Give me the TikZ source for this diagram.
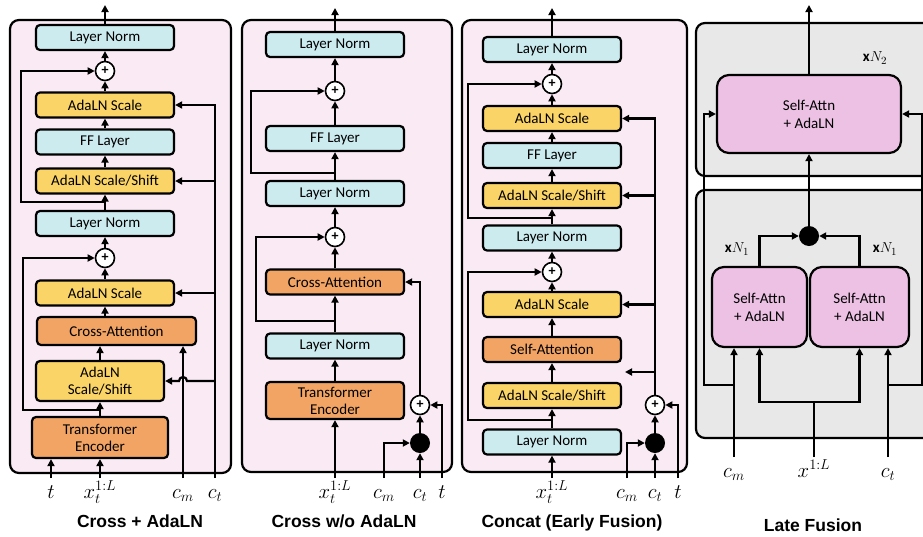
\documentclass[tikz,border=0pt]{standalone}
\usepackage{fontspec}
\setmainfont{Carlito}
\newfontfamily\titlefamily{Liberation Sans}
\usepackage{xcolor}
\usepackage{tikz}
\usetikzlibrary{arrows.meta,calc}

\definecolor{panelpink}{HTML}{F9EAF4}
\definecolor{lnblue}{HTML}{CCEBEF}
\definecolor{adagold}{HTML}{FBD467}
\definecolor{attorange}{HTML}{F2A465}
\definecolor{fusepink}{HTML}{EDC1E4}
\definecolor{fusegray}{HTML}{E8E8E8}

\begin{document}
\begin{tikzpicture}[x=1pt,y=-1pt,
    blk/.style={draw,line width=2.2pt,rounded corners=4pt,inner sep=0pt,align=center,
      minimum width=138pt,minimum height=25pt,font=\fontsize{15}{17}\selectfont},
    lnblk/.style={blk,fill=lnblue},
    adablk/.style={blk,fill=adagold},
    attblk/.style={blk,fill=attorange},
    fuseblk/.style={blk,fill=fusepink,rounded corners=12pt,font=\fontsize{15}{18}\selectfont},
    addop/.style={circle,draw,fill=white,line width=1.6pt,minimum size=19pt,inner sep=0pt,font=\bfseries\fontsize{14}{14}\selectfont},
    catop/.style={circle,fill=black,minimum size=20pt,inner sep=0pt},
    rep/.style={font=\fontsize{15}{17}\selectfont},
    wire/.style={line width=2.2pt},
    arr/.style={line width=2.2pt,-{Triangle[length=7pt,width=7pt]}},
    panel/.style={draw,line width=2.2pt,rounded corners=9pt,fill=panelpink},
    every label/.style={inner sep=0pt,text height=20pt,text depth=4pt,font=\fontsize{20}{22}\selectfont},
    caption/.style={font=\titlefamily\bfseries\fontsize{17.5}{20}\selectfont}]
    \useasboundingbox (0,0) rectangle (923,536);

    % Cross + AdaLN
    \draw[panel] (10,20) rectangle (231,473);
    \node[lnblk] (a-ln1) at (105,37.5) {Layer Norm};
    \node[addop] (a-add1) at (105,71) {+};
    \node[adablk] (a-sc1) at (105,105) {AdaLN Scale};
    \node[lnblk] (a-ff) at (105,142) {FF Layer};
    \node[adablk] (a-ss1) at (105,181) {AdaLN Scale/Shift};
    \node[lnblk] (a-ln2) at (105,223.5) {Layer Norm};
    \node[addop] (a-add2) at (105,258) {+};
    \node[adablk] (a-sc2) at (105,293) {AdaLN Scale};
    \node[attblk,minimum width=159pt,minimum height=28pt] (a-ca) at (116.5,331) {Cross-Attention};
    \node[adablk,minimum width=128pt,minimum height=40pt] (a-ss2) at (100,381) {AdaLN\\Scale/Shift};
    \node[attblk,minimum width=136pt,minimum height=41pt] (a-enc) at (100,437.5) {Transformer\\Encoder};
    \coordinate [label=below:$t$] (a-t) at (51,478);
    \coordinate [label=below:$x_t^{1:L}$] (a-x) at (100,478);
    \coordinate [label=below:$c_m$] (a-cm) at (183,478);
    \coordinate [label=below:$c_t$] (a-ct) at (215,478);
    \coordinate (a-out) at (105,5);
    \coordinate (a-r1) at (100,410);
    \coordinate (a-r2) at (105,202);
    \node[caption] (a-cap) at (140,521) {Cross + AdaLN};

    \draw[arr] (a-t) -- (a-t |- a-enc.south);
    \draw[arr] (a-x) -- (a-enc);
    \draw[arr] (a-enc) -- (a-ss2);
    \draw[arr] (a-ss2.north) -- (a-ss2.north |- a-ca.south);
    \draw[arr] (a-ca.north -| a-sc2) -- (a-sc2);
    \draw[arr] (a-sc2) -- (a-add2);
    \draw[arr] (a-add2) -- (a-ln2);
    \draw[arr] (a-ln2) -- (a-ss1);
    \draw[arr] (a-ss1) -- (a-ff);
    \draw[arr] (a-ff) -- (a-sc1);
    \draw[arr] (a-sc1) -- (a-add1);
    \draw[arr] (a-add1) -- (a-ln1);
    \draw[arr] (a-ln1) -- (a-out);
    \draw[arr] (a-r1) -- ++(-77,0) |- (a-add2);
    \draw[arr] (a-r2) -- ++(-84,0) |- (a-add1);
    \draw[arr] (a-cm) -- (a-cm |- a-ca.south);
    \draw[arr] (a-ct) |- (a-sc1);
    \draw[arr] (a-ct |- a-ss1) -- (a-ss1);
    \draw[arr] (a-ct |- a-sc2) -- (a-sc2);
    % hop over the c_m wire
    \draw[arr] (a-ct |- a-ss2) -- ($(a-cm |- a-ss2)+(4,0)$) arc (0:-180:4) -- (a-ss2);

    % Cross w/o AdaLN
    \draw[panel] (242,20) rectangle (452,472);
    \node[lnblk] (b-ln1) at (335,44.5) {Layer Norm};
    \node[addop] (b-add1) at (335,91) {+};
    \node[lnblk] (b-ff) at (335,138.5) {FF Layer};
    \node[lnblk] (b-ln2) at (335,193.5) {Layer Norm};
    \node[addop] (b-add2) at (335,237) {+};
    \node[attblk] (b-ca) at (335,282) {Cross-Attention};
    \node[lnblk] (b-ln3) at (335,346) {Layer Norm};
    \node[attblk,minimum height=37pt] (b-enc) at (335,400.5) {Transformer\\Encoder};
    \node[addop] (b-add3) at (420,405) {+};
    \node[catop] (b-cat) at (420,443) {};
    \coordinate [label=below:$x_t^{1:L}$] (b-x) at (335,478);
    \coordinate [label=below:$c_m$] (b-cm) at (384,478);
    \coordinate [label=below:$c_t$] (b-ct) at (420,478);
    \coordinate [label=below:$t$] (b-t) at (442,478);
    \coordinate (b-out) at (335,8);
    \coordinate (b-r1) at (335,173);
    \coordinate (b-r2) at (335,321);
    \node[caption] (b-cap) at (344,521) {Cross w/o AdaLN};

    \draw[arr] (b-x) -- (b-enc);
    \draw[arr] (b-enc) -- (b-ln3);
    \draw[arr] (b-ln3) -- (b-ca);
    \draw[arr] (b-ca) -- (b-add2);
    \draw[arr] (b-add2) -- (b-ln2);
    \draw[arr] (b-ln2) -- (b-ff);
    \draw[arr] (b-ff) -- (b-add1);
    \draw[arr] (b-add1) -- (b-ln1);
    \draw[arr] (b-ln1) -- (b-out);
    \draw[arr] (b-r1) -- ++(-84,0) |- (b-add1);
    \draw[arr] (b-r2) -- ++(-79,0) |- (b-add2);
    \draw[arr] (b-ct) -- (b-cat);
    \draw[arr] (b-cm) |- (b-cat);
    \draw[arr] (b-cat) -- (b-add3);
    \draw[arr] (b-t) |- (b-add3);
    \draw[arr] (b-add3) |- (b-ca);

    % Concat (Early Fusion)
    \draw[panel] (462,20) rectangle (687,472);
    \node[lnblk] (c-ln1) at (552,49.5) {Layer Norm};
    \node[addop] (c-add1) at (552,84) {+};
    \node[adablk] (c-sc1) at (552,118.5) {AdaLN Scale};
    \node[lnblk] (c-ff) at (552,155.5) {FF Layer};
    \node[adablk] (c-ss1) at (552,195.5) {AdaLN Scale/Shift};
    \node[lnblk] (c-ln2) at (552,238) {Layer Norm};
    \node[addop] (c-add2) at (552,272) {+};
    \node[adablk] (c-sc2) at (552,304.5) {AdaLN Scale};
    \node[attblk] (c-sa) at (552,349.5) {Self-Attention};
    \node[adablk] (c-ss2) at (552,395.5) {AdaLN Scale/Shift};
    \node[lnblk] (c-ln3) at (552,442) {Layer Norm};
    \node[addop] (c-add3) at (655,405) {+};
    \node[catop] (c-cat) at (655,443) {};
    \coordinate [label=below:$x_t^{1:L}$] (c-x) at (552,478);
    \coordinate [label=below:$c_m$] (c-cm) at (627,478);
    \coordinate [label=below:$c_t$] (c-ct) at (655,478);
    \coordinate [label=below:$t$] (c-t) at (678,478);
    \coordinate (c-out) at (552,8);
    \coordinate (c-r1) at (552,218);
    \coordinate (c-r2) at (552,420);
    \coordinate (c-stub) at (625,372);
    \node[caption] (c-cap) at (572,523) {Concat (Early Fusion)};

    \draw[arr] (c-x) -- (c-ln3);
    \draw[arr] (c-ln3) -- (c-ss2);
    \draw[arr] (c-ss2) -- (c-sa);
    \draw[arr] (c-sa) -- (c-sc2);
    \draw[arr] (c-sc2) -- (c-add2);
    \draw[arr] (c-add2) -- (c-ln2);
    \draw[arr] (c-ln2) -- (c-ss1);
    \draw[arr] (c-ss1) -- (c-ff);
    \draw[arr] (c-ff) -- (c-sc1);
    \draw[arr] (c-sc1) -- (c-add1);
    \draw[arr] (c-add1) -- (c-ln1);
    \draw[arr] (c-ln1) -- (c-out);
    \draw[arr] (c-r1) -- ++(-84,0) |- (c-add1);
    \draw[arr] (c-r2) -- ++(-84,0) |- (c-add2);
    \draw[arr] (c-ct) -- (c-cat);
    \draw[arr] (c-cm) |- (c-cat);
    \draw[arr] (c-cat) -- (c-add3);
    \draw[arr] (c-t) |- (c-add3);
    \draw[arr] (c-add3) |- (c-sc1);
    \draw[arr] (c-add3 |- c-ss1) -- (c-ss1);
    \draw[arr] (c-add3 |- c-sc2) -- (c-sc2);
    \draw[arr] (c-add3 |- c-stub) -- (c-stub);

    % Late Fusion
    \begin{scope}
      \clip (0,0) rectangle (923,536);
      \draw[line width=2.2pt,rounded corners=9pt,fill=fusegray] (696,23) rectangle (945,176);
      \draw[line width=2.2pt,rounded corners=9pt,fill=fusegray] (696,190) rectangle (945,438);
    \end{scope}
    \node[fuseblk,minimum width=184pt,minimum height=78pt] (d-sa) at (809,114) {Self-Attn\\+ AdaLN};
    \node[catop] (d-cat) at (809,236) {};
    \node[fuseblk,minimum width=95pt,minimum height=80pt] (d-sa1) at (759.5,307) {Self-Attn\\+ AdaLN};
    \node[fuseblk,minimum width=99pt,minimum height=80pt] (d-sa2) at (859.5,307) {Self-Attn\\+ AdaLN};
    \node[rep] (d-n2) at (875,58) {\textbf{x}$N_2$};
    \node[rep] (d-n1a) at (737,249) {\textbf{x}$N_1$};
    \node[rep] (d-n1b) at (885,249) {\textbf{x}$N_1$};
    \coordinate [label=below:$c_m$] (d-cm) at (734,457);
    \coordinate [label=below:$x^{1:L}$] (d-x) at (814,457);
    \coordinate [label=below:$c_t$] (d-ct) at (888,457);
    \coordinate (d-split) at (814,402);
    \coordinate (d-out) at (809,5);
    \node[caption] (d-cap) at (813,525) {Late Fusion};

    \draw[wire] (d-x) -- (d-split);
    \draw[arr] (d-split) -| (d-sa1);
    \draw[arr] (d-split) -| (d-sa2);
    \draw[arr] (d-cm) -- (d-cm |- d-sa1.south);
    \draw[arr] (d-ct) -- (d-ct |- d-sa2.south);
    \draw[arr] (d-sa1) |- (d-cat);
    \draw[arr] (d-sa2) |- (d-cat);
    \draw[arr] (d-cat) -- (d-sa);
    \draw[arr] (d-sa) -- (d-out);
    \draw[arr] ($(d-cm)+(0,-72)$) -- ++(-30,0) |- (d-sa);
    \draw[arr] ($(d-ct)+(0,-72)$) -- ++(34,0) |- (d-sa);
\end{tikzpicture}
\end{document}
